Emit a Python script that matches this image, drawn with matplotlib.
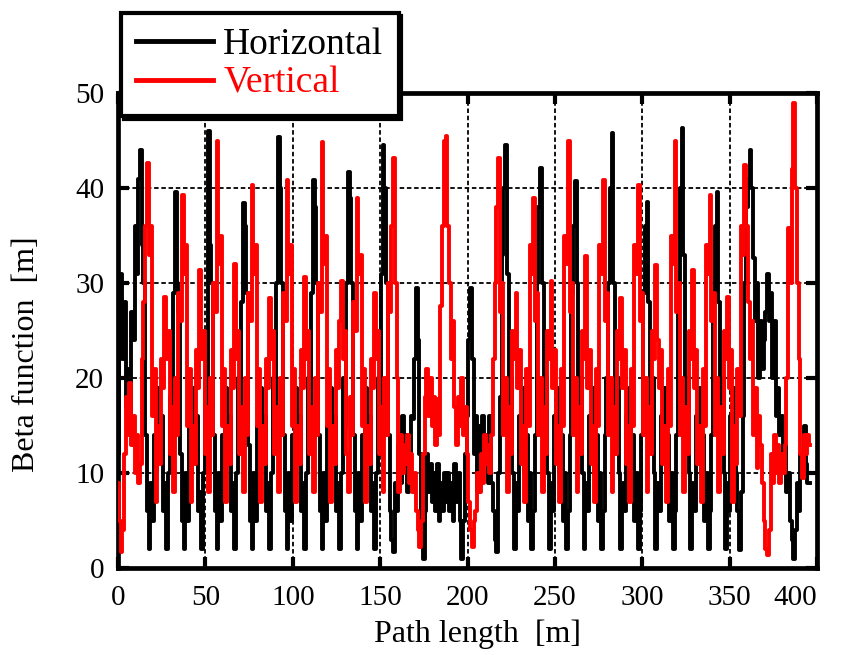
import numpy as np
import matplotlib
matplotlib.use("Agg")
import matplotlib.pyplot as plt

# beta functions, one sample per metre of path length
step = 1.0

beta_h = [
    12, 26, 31, 22, 28, 17, 21, 16, 27, 24,
    36, 31, 41, 44, 34, 30, 14, 6, 2, 9,
    5, 14, 10, 19, 13, 16, 6, 9, 2, 10,
    18, 14, 29, 39.6, 30, 27, 12, 5, 2, 10,
    5, 15, 10, 19, 13, 16, 6, 8, 2, 10,
    20, 15, 46, 34, 30, 14, 6, 2, 10, 5,
    14, 10, 19, 13, 16, 6, 9, 2, 10, 20,
    15, 28, 38.4, 36, 29, 13, 5, 2, 10, 5,
    15, 10, 19, 13, 16, 6, 9, 2, 10, 20,
    14, 30, 45.4, 40, 30, 14, 6, 2, 10, 5,
    14, 10, 19, 13, 16, 6, 9, 2, 10, 20,
    15, 29, 40.8, 38, 30, 14, 6, 2, 10, 5,
    15, 10, 19, 13, 16, 6, 9, 2, 10, 20,
    15, 30, 41.7, 39, 30, 14, 6, 2, 10, 5,
    14, 10, 19, 13, 16, 6, 9, 2, 10, 20,
    15, 31, 44.5, 40, 30, 14, 6, 3, 1.7, 9,
    6, 13, 9, 16, 11, 14, 8, 12, 16, 15.7,
    22, 29.5, 24, 12, 5, 1, 6, 12, 8, 11,
    7, 10, 6, 11, 5, 9, 6, 10, 7,
    10, 6, 9, 5, 11, 7, 10, 5, 1, 5,
    12, 16, 24, 29.5, 22, 12, 16, 8, 15, 12,
    16, 11, 14, 9, 16, 9, 6, 3, 1.7, 10,
    18, 33, 40, 44.5, 31, 15, 20, 10, 2, 9,
    6, 16, 13, 19, 10, 14, 5, 10, 2, 6,
    14, 30, 38, 42.1, 30, 15, 20, 10, 2, 9,
    6, 16, 13, 19, 10, 14, 5, 10, 2, 6,
    14, 29, 36, 40.7, 30, 15, 20, 10, 2, 9,
    6, 16, 13, 19, 10, 14, 5, 10, 2, 6,
    14, 20, 30, 40, 45.8, 30, 15, 20, 10, 2,
    9, 6, 16, 13, 19, 10, 14, 5, 10, 2,
    6, 14, 29, 36, 38.5, 28, 15, 20, 10, 2,
    9, 6, 16, 13, 19, 10, 14, 5, 10, 2,
    6, 14, 30, 40, 46.3, 33, 15, 20, 10, 2,
    9, 6, 16, 13, 19, 10, 14, 5, 10, 2,
    6, 14, 29, 36, 39.6, 28, 15, 20, 10, 2,
    9, 6, 16, 13, 19, 10, 6, 1.9, 8, 16,
    30, 38, 41, 44, 40, 32.6, 26, 30, 20, 26,
    21, 24, 27, 31, 26, 29, 20, 26, 16, 19,
    14, 16, 11, 13, 8, 10, 5, 3, 1, 4,
    9, 6, 12, 10, 15, 11, 9, 9,
]

beta_v = [
    9, 5, 1.7, 4, 12, 18, 14, 19.5, 13, 16,
    10, 14, 9, 11, 22, 28, 36, 42.6, 33, 36,
    16, 21, 7, 15, 11, 22, 19, 28.5, 22, 25,
    12, 17, 8, 20, 14, 29, 26, 39.3, 31, 34,
    15, 21, 7, 15, 11, 23, 19, 31.4, 22, 25,
    12, 17, 8, 20, 14, 30, 27, 45, 32, 35,
    15, 21, 7, 15, 11, 23, 19, 32, 22, 25,
    12, 17, 8, 20, 14, 29, 26, 40.3, 31, 34,
    15, 21, 7, 15, 11, 22, 19, 28.4, 22, 25,
    12, 17, 8, 20, 14, 29, 26, 40.8, 31, 34,
    15, 21, 7, 15, 11, 23, 19, 30.6, 22, 25,
    12, 17, 8, 20, 14, 30, 27, 44.8, 32, 35,
    15, 21, 7, 15, 11, 23, 19, 26, 30.2, 22,
    25, 12, 8, 18, 14, 28, 25, 39, 31, 33,
    15, 21, 7, 15, 11, 22, 19, 29, 22, 25,
    12, 17, 8, 20, 14, 30, 27, 36, 43.2, 30,
    20, 8, 14, 10, 13, 11, 14, 9, 12, 8,
    10, 6, 4, 2.2, 5, 12, 18, 21, 16, 20,
    15, 18, 13, 17.8, 14, 27.6, 36, 45, 45.5,
    36, 30, 22, 26, 17, 13, 18, 15, 20, 14,
    17, 12, 7, 4, 2.2, 5, 6, 10, 8, 12,
    9, 14, 11, 13, 10, 14, 22, 30, 38, 43.2,
    27, 30, 14, 20, 8, 17, 12, 25, 22, 29,
    19, 23, 11, 15, 7, 21, 15, 34, 31, 39,
    26, 29, 14, 20, 8, 17, 12, 25, 22, 30.2,
    19, 23, 11, 15, 7, 21, 15, 35, 32, 45,
    27, 30, 14, 20, 8, 17, 12, 25, 22, 32.8,
    19, 23, 11, 15, 7, 21, 15, 34, 31, 40.8,
    26, 29, 14, 20, 8, 17, 12, 25, 22, 28.4,
    19, 23, 11, 15, 7, 21, 15, 34, 31, 40.3,
    26, 29, 14, 20, 8, 17, 12, 25, 22, 31.9,
    24, 19, 23, 11, 15, 7, 21, 15, 35, 32,
    45, 27, 30, 14, 20, 8, 17, 12, 25, 22,
    31.4, 19, 23, 11, 15, 7, 21, 15, 34, 31,
    39.3, 26, 29, 14, 20, 8, 17, 12, 25, 22,
    28.5, 19, 23, 7, 15, 11, 21, 16, 36, 33,
    42.4, 36, 28, 22, 26, 14, 19, 10.5, 16, 13,
    9, 5, 2, 1.4, 4, 12, 9, 14, 10, 13,
    9, 12, 10, 13, 20, 35.8, 30, 42, 49, 40,
    30, 22, 12, 9.5, 14, 12, 14, 13,
]

assert len(beta_h) == len(beta_v)
s = np.arange(len(beta_h)) * step

x_ticks = [0, 50, 100, 150, 200, 250, 300, 350, 400]
y_ticks = [0, 10, 20, 30, 40, 50]

serif = ['Liberation Serif', 'DejaVu Serif']
plt.rcParams['font.family'] = serif

fig = plt.figure(figsize=(8.59, 6.55), dpi=100)
ax = fig.add_axes([118 / 859, 87 / 655, 699 / 859, 475 / 655])

ax.plot(s, beta_h, color='black', lw=2.8, drawstyle='steps-mid',
        label='Horizontal', zorder=3)
ax.plot(s, beta_v, color='red', lw=2.8, drawstyle='steps-mid',
        label='Vertical', zorder=4)

ax.set_xlim(0, 400)
ax.set_ylim(0, 50)
ax.set_xticks(x_ticks)
ax.set_yticks(y_ticks)
ax.set_axisbelow(True)
ax.grid(True, color='black', lw=1.3, linestyle=(0, (2.5, 1.5)))

for sp in ax.spines.values():
    sp.set_linewidth(3.4)
ax.tick_params(direction='in', length=8, width=3, top=True, right=True,
               labelsize=21, pad=10)
ax.tick_params(axis='x', pad=12)
ax.get_xticklabels()[-1].set_ha('right')

ax.set_xlabel('Path length  [m]', fontsize=23)
ax.set_ylabel('Beta function  [m]', fontsize=23)
ax.xaxis.set_label_coords(0.514, -0.108)
ax.yaxis.set_label_coords(-0.11, 0.45)

leg = ax.legend(loc='upper left', bbox_to_anchor=(121 / 859, 1 - 13 / 655),
                bbox_transform=fig.transFigure, fancybox=False, framealpha=1,
                edgecolor='black', fontsize=27, handlelength=2.05,
                handletextpad=0.28, labelspacing=0.1, borderpad=0.4,
                borderaxespad=0, labelcolor='linecolor',
                shadow={'color': 'black', 'alpha': 1})
leg.get_frame().set_linewidth(3)
for line in leg.get_lines():
    line.set_linewidth(3.5)

fig.savefig('out.png', dpi=100)
